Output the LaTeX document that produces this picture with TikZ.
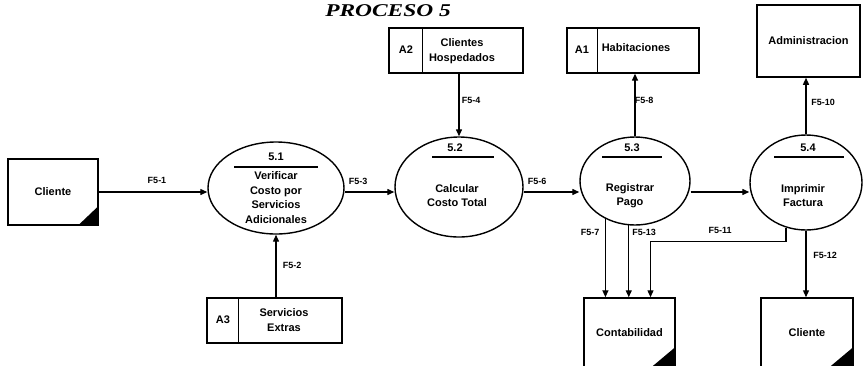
\documentclass[tikz,border=0pt]{standalone}
\usepackage{fontspec}
\setmainfont{Liberation Sans}
\newfontfamily\titlefont{Liberation Serif}
\usetikzlibrary{arrows.meta,shapes.geometric,calc}

\tikzset{
  every node/.style={inner sep=0pt, font=\bfseries\fontsize{11}{14.5}\selectfont},
  heading/.style={font=\titlefont\bfseries\itshape\fontsize{18}{18}\selectfont},
  proc/.style={draw, ellipse, line width=1.4pt},
  entity/.style={draw, rectangle, line width=1.5pt},
  store/.style={draw, rectangle, line width=1.3pt},
  divline/.style={line width=1.4pt},
  corner/.style={fill=black},
  flow/.style={line width=1.3pt, -{Triangle[length=7pt,width=6pt]}},
  lbl/.style={font=\bfseries\fontsize{9}{10}\selectfont},
}

\begin{document}
\begin{tikzpicture}[x=1pt,y=-1pt]
\useasboundingbox (0,0) rectangle (864,365);
\clip (0,0) rectangle (864,365);

% title
\node[heading] (title) at (388,11) {\scalebox{1.3}[1]{PROCESO 5}};

% external entities
\node[entity, minimum width=90pt, minimum height=66pt] (cliente) at (53,192) {Cliente};
\fill[corner] (cliente.south east) -- ++(-21,0) -- ++(21,-20) -- cycle;

\node[entity, minimum width=103pt, minimum height=72pt] (admin) at (808.5,41) {Administracion};

\node[entity, minimum width=91pt, minimum height=69pt] (contab) at (629.5,332.5) {Contabilidad};
\fill[corner] (contab.south east) -- ++(-25,0) -- ++(25,-21) -- cycle;

\node[entity, minimum width=92pt, minimum height=69pt] (cliente2) at (807,332.5) {Cliente};
\fill[corner] (cliente2.south east) -- ++(-25,0) -- ++(25,-21) -- cycle;

% data stores
\node[store, minimum width=134pt, minimum height=45pt] (a2) at (456,50.5) {};
\draw[store] ($(a2.north west)+(34,0)$) -- ($(a2.south west)+(34,0)$);
\node (a2id) at (406,50) {A2};
\node[align=center] (a2txt) at (462,51) {Clientes\\Hospedados};

\node[store, minimum width=132pt, minimum height=45pt] (a1) at (633,50.5) {};
\draw[store] ($(a1.north west)+(31,0)$) -- ($(a1.south west)+(31,0)$);
\node (a1id) at (582,50) {A1};
\node (a1txt) at (636,48) {Habitaciones};

\node[store, minimum width=135pt, minimum height=45pt] (a3) at (274.5,320.5) {};
\draw[store] ($(a3.north west)+(32,0)$) -- ($(a3.south west)+(32,0)$);
\node (a3id) at (223,320) {A3};
\node[align=center] (a3txt) at (284,320) {Servicios\\Extras};

% processes
\node[proc, minimum width=136pt, minimum height=92pt] (p1) at (276,188) {};
\node (n1) at (276,157) {5.1};
\draw[divline] (234,167) -- (318,167);
\node[align=center] (t1) at (276,197.5) {Verificar\\Costo por\\Servicios\\Adicionales};

\node[proc, minimum width=128pt, minimum height=100pt] (p2) at (459,187) {};
\node (n2) at (455,148) {5.2};
\draw[divline] (432,157) -- (494,157);
\node[align=center] (t2) at (457,195.5) {Calcular\\Costo Total};

\node[proc, minimum width=110pt, minimum height=88pt] (p3) at (635,181) {};
\node (n3) at (632,148) {5.3};
\draw[divline] (602,157) -- (662,157);
\node[align=center] (t3) at (630,195.5) {Registrar\\Pago};

\node[proc, minimum width=112pt, minimum height=95pt] (p4) at (806,182.5) {};
\node (n4) at (808,148) {5.4};
\draw[divline] (774,157) -- (844,157);
\node[align=center] (t4) at (803,195.5) {Imprimir\\Factura};

% data flows along the main row
\draw[flow] (cliente.east) -- (cliente.east -| p1.west);
\draw[flow] (p1.east |- cliente.east) -- (p2.west |- cliente.east);
\draw[flow] (p2.east |- cliente.east) -- (p3.west |- cliente.east);
\draw[flow] (p3.east |- cliente.east) -- (p4.west |- cliente.east);

% flows from stores into processes
\draw[flow] (a3.north -| p1.south) -- (p1.south);
\draw[flow] (a2.south -| p2.north) -- (p2.north);

% flows out to stores and entities above
\draw[flow] (p3.north) -- (p3.north |- a1.south);
\draw[flow] (p4.north) -- (p4.north |- admin.south);

% flows down to Contabilidad and Cliente
\draw[flow] (p3.-128) -- (p3.-128 |- contab.north);
\draw[flow] (p3.-98) -- (p3.-98 |- contab.north);
\draw[flow] (p4.-114) -- ++(0,14) -| ($(contab.north)+(21,0)$);
\draw[flow] (p4.south) -- (p4.south |- cliente2.north);

% flow labels
\node[lbl] (f1)  at (157,180) {F5-1};
\node[lbl] (f2)  at (292,265) {F5-2};
\node[lbl] (f3)  at (358,181) {F5-3};
\node[lbl] (f4)  at (471,100) {F5-4};
\node[lbl] (f6)  at (537,181) {F5-6};
\node[lbl] (f8)  at (644,100) {F5-8};
\node[lbl] (f10) at (823,102) {F5-10};
\node[lbl] (f7)  at (590,232) {F5-7};
\node[lbl] (f13) at (644,232) {F5-13};
\node[lbl] (f11) at (720,230) {F5-11};
\node[lbl] (f12) at (825,255) {F5-12};
\end{tikzpicture}
\end{document}
